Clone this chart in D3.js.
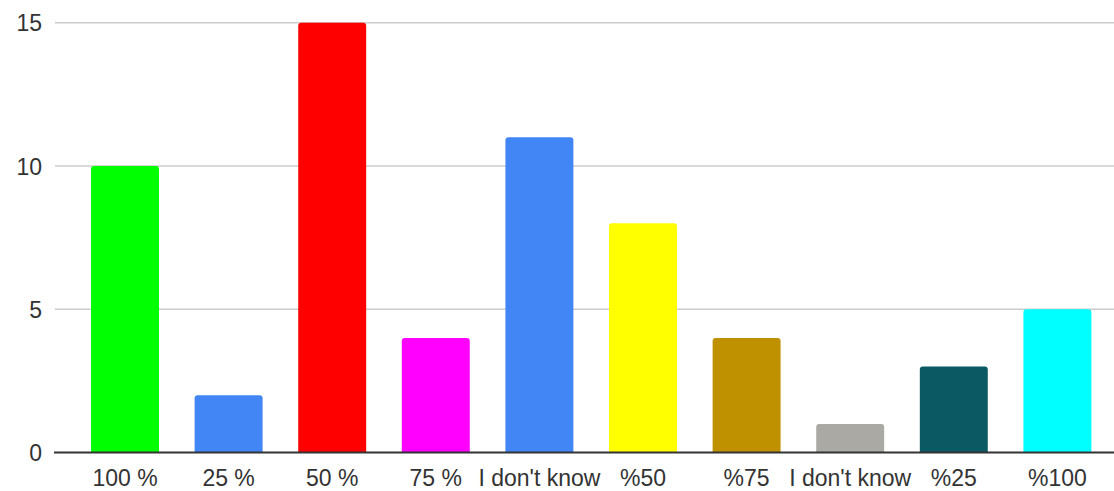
<!DOCTYPE html>
<html>
<head>
<meta charset="utf-8">
<script src="https://cdn.jsdelivr.net/npm/d3@7"></script>
<style>
  html, body { margin: 0; padding: 0; background: #fff; }
  svg { display: block; }
</style>
</head>
<body>
<svg id="chart" width="1114" height="491"></svg>
<script>
const categories = ["100 %", "25 %", "50 %", "75 %", "I don't know", "%50", "%75", "I don't know", "%25", "%100"];
const values = [10, 2, 15, 4, 11, 8, 4, 1, 3, 5];
const colors = ["#00ff00", "#4285f4", "#ff0000", "#ff00ff", "#4285f4", "#ffff00", "#bf9000", "#aaa9a4", "#0b5a63", "#00ffff"];
const yTicks = [0, 5, 10, 15];

const svg = d3.select("#chart");
const W = 1114, H = 491;

const y = d3.scaleLinear().domain([0, 15]).range([452.6, 22.7]);
const x = d3.scaleBand()
  .domain(d3.range(categories.length))
  .range([73.2, 1109.2])
  .paddingInner(0.344)
  .paddingOuter(0.172);

const font = "'Liberation Sans', Arial, sans-serif";

// gridlines
const yAxis = d3.axisLeft(y).tickValues(yTicks).tickSize(0).tickPadding(0).tickFormat(d3.format("d"));
const yg = svg.append("g").attr("transform", "translate(42,0)").call(yAxis);
yg.select(".domain").remove();
yg.selectAll("text")
  .attr("font-family", font)
  .attr("font-size", 23)
  .attr("fill", "#333")
  .attr("x", 0)
  .attr("dy", "0.36em");

svg.append("g")
  .selectAll("line")
  .data(yTicks.filter(d => d > 0))
  .join("line")
  .attr("x1", 55).attr("x2", W)
  .attr("y1", d => y(d)).attr("y2", d => y(d))
  .attr("stroke", "#cccccc")
  .attr("stroke-width", 1.5);

// bars with rounded top corners
const r = 3;
function barPath(x0, w, yTop, yBot) {
  return `M${x0},${yBot}V${yTop + r}Q${x0},${yTop} ${x0 + r},${yTop}H${x0 + w - r}Q${x0 + w},${yTop} ${x0 + w},${yTop + r}V${yBot}Z`;
}
svg.append("g")
  .selectAll("path")
  .data(values)
  .join("path")
  .attr("d", (d, i) => barPath(x(i), x.bandwidth(), y(d), y(0)))
  .attr("fill", (d, i) => colors[i]);

// baseline
svg.append("line")
  .attr("x1", 54).attr("x2", W)
  .attr("y1", y(0)).attr("y2", y(0))
  .attr("stroke", "#333")
  .attr("stroke-width", 2);

// x labels
const xAxis = d3.axisBottom(x).tickSize(0).tickPadding(0).tickFormat(i => categories[i]);
const xg = svg.append("g").attr("transform", "translate(0,0)").call(xAxis);
xg.select(".domain").remove();
xg.selectAll("text")
  .attr("font-family", font)
  .attr("font-size", 23)
  .attr("fill", "#333")
  .attr("y", 486)
  .attr("dy", 0);
</script>
</body>
</html>
